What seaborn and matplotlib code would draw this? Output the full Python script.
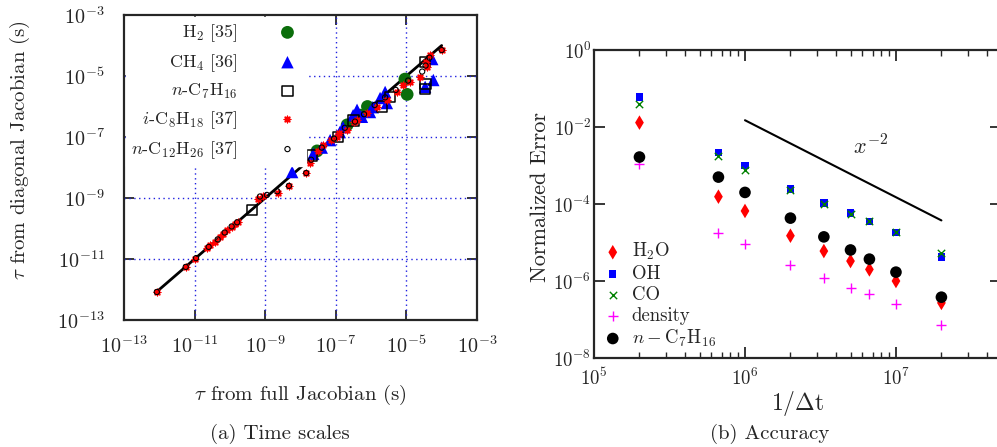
import numpy as np
import pandas as pd
import matplotlib
matplotlib.use("Agg")
import matplotlib.pyplot as plt
import seaborn as sns
from matplotlib.ticker import LogLocator, NullLocator, FixedLocator

# ---------------- data: panel (a) ----------------
h2_full = [2.95e-8, 2.1e-7, 4.9e-7, 7.9e-7, 9.1e-6, 1.05e-5]
h2_diag = [3.5e-8, 2.5e-7, 5.2e-7, 1.0e-6, 7.9e-6, 2.5e-6]

ch4_full = [5.8e-9, 2.3e-8, 4.0e-8, 6.9e-8, 1.3e-7, 1.6e-7, 3.1e-7, 4.0e-7, 5.5e-7,
            9.3e-7, 1.12e-6, 1.8e-6, 2.5e-6, 2.8e-6, 3.4e-5, 5.8e-5, 5.4e-5]
ch4_diag = [7.1e-9, 2.8e-8, 4.5e-8, 7.9e-8, 1.45e-7, 2.1e-7, 5.2e-7, 7.8e-7, 4.6e-7,
            6.6e-7, 9.5e-7, 1.9e-6, 3.0e-6, 1.3e-6, 4.4e-6, 7.4e-6, 3.6e-5]

c7_full = [4.3e-10, 2.1e-8, 1.15e-7, 3.2e-7, 2.0e-6, 3.5e-6, 3.4e-5, 3.4e-5, 3.5e-5]
c7_diag = [4.1e-10, 2.5e-8, 1.0e-7, 3.5e-7, 1.0e-6, 2.0e-6, 2.95e-5, 3.7e-6, 5.6e-6]

c8_full = [8.5e-13, 5.6e-12, 1.0e-11, 2.2e-11, 2.8e-11, 3.8e-11, 5.2e-11, 6.3e-11, 8.3e-11,
           1.15e-10, 1.4e-10, 1.7e-10, 6.3e-10, 8.7e-10, 2.3e-9, 4.7e-9, 1.45e-8, 1.86e-8,
           3.2e-8, 4.4e-8, 7.1e-8, 1.07e-7, 2.1e-7, 4.0e-7, 7.6e-7, 1.48e-6, 2.8e-6, 5.4e-6,
           1.26e-5, 2.5e-5, 3.8e-5, 4.7e-5, 1.0e-4, 3.5e-5, 7.9e-6, 3.2e-7, 1.26e-7]
c8_diag = [8.3e-13, 5.5e-12, 1.0e-11, 2.3e-11, 2.9e-11, 3.6e-11, 5.2e-11, 6.6e-11, 8.9e-11,
           1.12e-10, 1.4e-10, 1.6e-10, 9.3e-10, 1.17e-9, 1.45e-9, 2.5e-9, 6.6e-9, 1.4e-8,
           3.5e-8, 5.5e-8, 7.9e-8, 1.0e-7, 1.7e-7, 3.6e-7, 6.2e-7, 1.0e-6, 1.6e-6, 3.0e-6,
           6.3e-6, 9.3e-6, 2.0e-5, 4.9e-5, 7.1e-5, 2.8e-5, 5.0e-6, 3.2e-7, 1.4e-7]

c12_full = [8.5e-13, 5.6e-12, 1.1e-11, 2.5e-11, 4.5e-11, 7.1e-11, 1.12e-10, 1.6e-10, 7.1e-10,
            1.12e-9, 2.2e-9, 4.7e-9, 1.45e-8, 2.0e-8, 4.0e-8, 8.9e-8, 1.8e-7, 3.5e-7, 6.3e-7,
            1.26e-6, 2.5e-6, 5.0e-6, 1.12e-5, 2.8e-5, 3.5e-5, 4.5e-5, 1.0e-4]
c12_diag = [8.3e-13, 5.5e-12, 1.07e-11, 2.5e-11, 4.4e-11, 7.4e-11, 1.17e-10, 1.6e-10, 1.12e-9,
            1.26e-9, 1.66e-9, 2.5e-9, 6.6e-9, 1.8e-8, 4.5e-8, 8.9e-8, 2.0e-7, 3.2e-7, 5.6e-7,
            1.12e-6, 2.0e-6, 3.5e-6, 7.1e-6, 1.4e-5, 2.2e-5, 4.0e-5, 7.1e-5]

diag_line_x = [8.5e-13, 1.0e-4]
diag_line_y = [8.5e-13, 1.0e-4]

tau_ticks = [1e-13, 1e-11, 1e-9, 1e-7, 1e-5, 1e-3]
tau_grid = [1e-11, 1e-9, 1e-7, 1e-5]

# ---------------- data: panel (b) ----------------
inv_dt = [2e5, 6.67e5, 1e6, 2e6, 3.33e6, 5e6, 6.67e6, 1e7, 2e7]
err_h2o = [1.3e-2, 1.55e-4, 6.6e-5, 1.5e-5, 6.0e-6, 3.3e-6, 2.0e-6, 1.0e-6, 2.7e-7]
err_oh = [6.0e-2, 2.2e-3, 1.0e-3, 2.45e-4, 1.07e-4, 5.8e-5, 3.5e-5, 1.8e-5, 4.2e-6]
err_co = [3.9e-2, 1.8e-3, 7.6e-4, 2.3e-4, 1.0e-4, 5.6e-5, 3.6e-5, 1.9e-5, 5.2e-6]
err_rho = [1.1e-3, 1.8e-5, 9.1e-6, 2.6e-6, 1.2e-6, 6.6e-7, 4.6e-7, 2.5e-7, 7.2e-8]
err_c7 = [1.66e-3, 5.0e-4, 2.0e-4, 4.3e-5, 1.4e-5, 6.4e-6, 3.7e-6, 1.7e-6, 3.8e-7]
slope_x = [1e6, 2e7]
slope_y = [1.5e-2, 3.75e-5]

err_xticks = [1e5, 1e6, 1e7]
err_yticks = [1e-8, 1e-6, 1e-4, 1e-2, 1e0]

# ---------------- style ----------------
sns.set_style("ticks")
plt.rcParams.update({
    "font.family": "serif",
    "font.serif": ["cmr10", "DejaVu Serif"],
    "mathtext.fontset": "cm",
    "axes.formatter.use_mathtext": True,
    "axes.linewidth": 1.6,
})

fig = plt.figure(figsize=(9.97, 4.47), dpi=100)
ax1 = fig.add_axes([0.1244, 0.2841, 0.354, 0.6823])
ax2 = fig.add_axes([0.5958, 0.1991, 0.4087, 0.689])

# ---------------- panel (a) ----------------
sns.lineplot(x=diag_line_x, y=diag_line_y, ax=ax1, color="black", lw=2, legend=False, zorder=3)
sns.scatterplot(x=h2_full, y=h2_diag, ax=ax1, marker="o", s=85, color="#0b6e0b",
                edgecolor="none", label="H$_2$ [35]", zorder=4)
sns.scatterplot(x=ch4_full, y=ch4_diag, ax=ax1, marker="^", s=80, color="#0000ff",
                edgecolor="none", label="CH$_4$ [36]", zorder=4)
sns.scatterplot(x=c7_full, y=c7_diag, ax=ax1, marker="s", s=55, facecolor="none",
                edgecolor="black", linewidth=1.1, label="$n$-C$_7$H$_{16}$", zorder=5)
sns.scatterplot(x=c8_full, y=c8_diag, ax=ax1, marker=(8, 2, 0), s=22, color="red",
                linewidth=1.0, label="$i$-C$_8$H$_{18}$ [37]", zorder=5)
sns.scatterplot(x=c12_full, y=c12_diag, ax=ax1, marker="o", s=14, facecolor="none",
                edgecolor="black", linewidth=0.8, label="$n$-C$_{12}$H$_{26}$ [37]", zorder=6)

ax1.set_xscale("log")
ax1.set_yscale("log")
ax1.set_xlim(1e-13, 1e-3)
ax1.set_ylim(1e-13, 1e-3)
ax1.xaxis.set_major_locator(FixedLocator(tau_ticks))
ax1.yaxis.set_major_locator(FixedLocator(tau_ticks))
ax1.xaxis.set_minor_locator(NullLocator())
ax1.yaxis.set_minor_locator(NullLocator())
for g in tau_grid:
    ax1.axvline(g, color="#2020e0", ls=(0, (1, 2.5)), lw=1.0, zorder=1)
    ax1.axhline(g, color="#2020e0", ls=(0, (1, 2.5)), lw=1.0, zorder=1)
ax1.tick_params(which="both", direction="in", top=True, right=True, length=7,
                width=1.3, labelsize=14.5)
ax1.tick_params(axis="x", pad=11)
ax1.tick_params(axis="y", pad=14)
ax1.set_xlabel(r"$\tau$ from full Jacobian (s)", fontsize=15)
ax1.xaxis.set_label_coords(0.5, -0.205)
ax1.set_ylabel(r"$\tau$ from diagonal Jacobian (s)", fontsize=15)
ax1.yaxis.set_label_coords(-0.262, 0.557)
leg1 = ax1.legend(loc="upper left", markerfirst=False, frameon=True, fancybox=False,
                  facecolor="white", edgecolor="white", framealpha=1.0, fontsize=13,
                  borderaxespad=0.1, borderpad=0.3, labelspacing=0.45,
                  handletextpad=2.0, handlelength=1.5)
leg1.set_zorder(10)

# ---------------- panel (b) ----------------
sns.lineplot(x=slope_x, y=slope_y, ax=ax2, color="black", lw=1.5, legend=False)
sns.scatterplot(x=inv_dt, y=err_h2o, ax=ax2, marker="d", s=55, color="red",
                edgecolor="none", label="H$_2$O", zorder=4)
sns.scatterplot(x=inv_dt, y=err_oh, ax=ax2, marker="s", s=28, color="#0000ff",
                edgecolor="none", label="OH", zorder=4)
sns.scatterplot(x=inv_dt, y=err_co, ax=ax2, marker="x", s=28, color="#008000",
                linewidth=1.0, label="CO", zorder=5)
sns.scatterplot(x=inv_dt, y=err_rho, ax=ax2, marker="+", s=60, color="#ff00ff",
                linewidth=1.0, label="density", zorder=4)
sns.scatterplot(x=inv_dt, y=err_c7, ax=ax2, marker="o", s=70, color="black",
                edgecolor="none", label=r"$n-\mathrm{C}_7\mathrm{H}_{16}$", zorder=4)

ax2.set_xscale("log")
ax2.set_yscale("log")
ax2.set_xlim(1e5, 5e7)
ax2.set_ylim(1e-8, 1e0)
ax2.xaxis.set_major_locator(FixedLocator(err_xticks))
ax2.xaxis.set_minor_locator(LogLocator(base=10, subs=(2, 3, 4, 5, 6, 7, 8, 9), numticks=20))
ax2.yaxis.set_major_locator(FixedLocator(err_yticks))
ax2.yaxis.set_minor_locator(NullLocator())
ax2.tick_params(which="major", direction="in", top=True, right=True, length=8,
                width=1.3, labelsize=13.5)
ax2.tick_params(axis="x", which="major", pad=7)
ax2.tick_params(axis="y", which="major", pad=2)
ax2.tick_params(which="minor", direction="in", top=True, right=True, length=4, width=1.0)
ax2.set_xlabel(r"$1/\Delta\mathrm{t}$", fontsize=17)
ax2.xaxis.set_label_coords(0.5, -0.10)
ax2.set_ylabel("Normalized Error", fontsize=16)
ax2.yaxis.set_label_coords(-0.108, 0.523)
ax2.text(6.8e6, 3.2e-3, r"$x^{-2}$", fontsize=16, ha="center", va="center")
ax2.legend(loc="lower left", frameon=False, fontsize=13.5, markerfirst=True,
           borderaxespad=0.2, borderpad=0.3, labelspacing=0.15,
           handletextpad=0.5, handlelength=1.0)

# captions
fig.text(280 / 997, 1 - 434 / 447, "(a) Time scales", fontsize=15, ha="center", va="center")
fig.text(770 / 997, 1 - 434 / 447, "(b) Accuracy", fontsize=15, ha="center", va="center")

fig.savefig("out.png", dpi=100)
